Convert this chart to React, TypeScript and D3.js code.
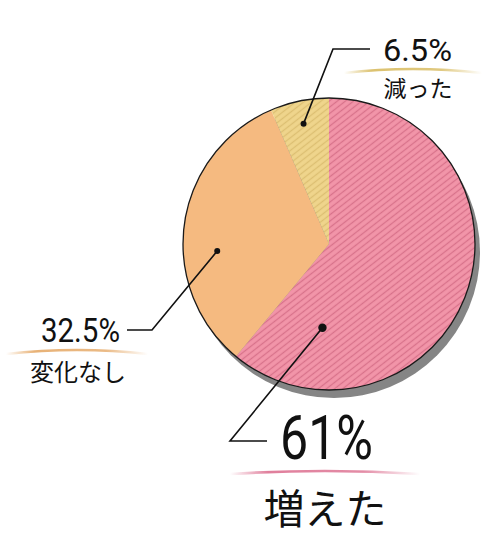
import * as d3 from "d3";
import { useEffect, useRef } from "react";

// data
const categories = ["増えた", "変化なし", "減った"];
const percents = [61, 32.5, 6.5];
const valueLabels = ["61%", "32.5%", "6.5%"];
const baseColors = ["#f295a9", "#f5ba80", "#efd58c"];
const stripeColors = ["#d8728b", "#f5ba80", "#dcbf72"];
const swooshColors = ["#e07f9c", "#e8b277", "#dcc270"];

export default function App() {
  const ref = useRef<SVGSVGElement>(null);

  useEffect(() => {
    const svg = d3.select(ref.current);
    svg.selectAll("*").remove();

    const cx = 329,
      cy = 244,
      r = 146;

    const defs = svg.append("defs");
    categories.forEach((c, i) => {
      const p = defs
        .append("pattern")
        .attr("id", "stripe" + i)
        .attr("patternUnits", "userSpaceOnUse")
        .attr("width", 10)
        .attr("height", 5)
        .attr("patternTransform", "rotate(-38)");
      p.append("rect").attr("width", 10).attr("height", 5).attr("fill", baseColors[i]);
      if (i !== 1) {
        p.append("line")
          .attr("x1", 0)
          .attr("x2", 10)
          .attr("y1", 2.5)
          .attr("y2", 2.5)
          .attr("stroke", stripeColors[i])
          .attr("stroke-width", 1.3);
      }
      const g = defs
        .append("linearGradient")
        .attr("id", "swoosh" + i)
        .attr("x1", "0%")
        .attr("x2", "100%");
      g.append("stop").attr("offset", "0%").attr("stop-color", swooshColors[i]).attr("stop-opacity", 0);
      g.append("stop").attr("offset", "20%").attr("stop-color", swooshColors[i]).attr("stop-opacity", 1);
      g.append("stop").attr("offset", "70%").attr("stop-color", swooshColors[i]).attr("stop-opacity", 0.9);
      g.append("stop").attr("offset", "100%").attr("stop-color", swooshColors[i]).attr("stop-opacity", 0);
    });

    const pie = d3
      .pie<number>()
      .sort(null)
      .value((d) => d);
    const arcs = pie(percents);
    const arc = d3.arc<any>().innerRadius(0).outerRadius(r);

    // shadow
    svg
      .append("circle")
      .attr("cx", cx + 5)
      .attr("cy", cy + 8)
      .attr("r", r)
      .attr("fill", "#858585");

    const g = svg.append("g").attr("transform", `translate(${cx},${cy})`);
    g.selectAll("path")
      .data(arcs)
      .join("path")
      .attr("d", arc)
      .attr("fill", (d, i) => `url(#stripe${i})`);
    g.append("circle").attr("r", r).attr("fill", "none").attr("stroke", "#1a1a1a").attr("stroke-width", 1.3);

    // annotation layout: where the dot sits in its slice, and label placement
    const anno = [
      {
        f: 0.84, rr: 84, dotR: 4.2,
        elbow: [230, 441], end: [267, 441],
        num: { x: 280, y: 459, size: 62, len: 93 },
        swoosh: [230, 420, 474, -3],
        cat: { x: 325, y: 524, size: 41 },
      },
      {
        f: 0.4, rr: 112, dotR: 3,
        elbow: [152, 330], end: [127, 330],
        num: { x: 41, y: 342, size: 34, len: 79 },
        swoosh: [6, 148, 354, -4],
        cat: { x: 78, y: 381, size: 24 },
      },
      {
        f: 0.49, rr: 123, dotR: 3,
        elbow: [333, 49], end: [370, 49],
        num: { x: 383, y: 61, size: 31, len: 69 },
        swoosh: [344, 482, 73, -4],
        cat: { x: 418, y: 97, size: 23 },
      },
    ];

    arcs.forEach((a, i) => {
      const an = anno[i];
      const ang = a.startAngle + an.f * (a.endAngle - a.startAngle);
      const px = cx + an.rr * Math.sin(ang);
      const py = cy - an.rr * Math.cos(ang);
      svg
        .append("polyline")
        .attr("points", `${px},${py} ${an.elbow[0]},${an.elbow[1]} ${an.end[0]},${an.end[1]}`)
        .attr("fill", "none")
        .attr("stroke", "#111")
        .attr("stroke-width", 1.6);
      svg.append("circle").attr("cx", px).attr("cy", py).attr("r", an.dotR).attr("fill", "#111");

      svg
        .append("text")
        .attr("x", an.num.x)
        .attr("y", an.num.y)
        .attr("font-family", "Roboto, 'DejaVu Sans Condensed', sans-serif")
        .attr("font-weight", 400)
        .attr("font-size", an.num.size)
        .attr("fill", "#111")
        .attr("textLength", an.num.len)
        .attr("lengthAdjust", "spacingAndGlyphs")
        .text(valueLabels[i]);

      const [x0, x1, sy, bend] = an.swoosh;
      svg
        .append("path")
        .attr("d", `M${x0},${sy} Q${(x0 + x1) / 2},${sy + bend * 2} ${x1},${sy}`)
        .attr("fill", "none")
        .attr("stroke", `url(#swoosh${i})`)
        .attr("stroke-width", 2.6)
        .attr("stroke-linecap", "round");

      svg
        .append("text")
        .attr("x", an.cat.x)
        .attr("y", an.cat.y)
        .attr("text-anchor", "middle")
        .attr("font-family", "'Noto Sans CJK JP', sans-serif")
        .attr("font-weight", 400)
        .attr("font-size", an.cat.size)
        .attr("fill", "#111")
        .text(categories[i]);
    });
  }, []);

  return (
    <svg
      ref={ref}
      width={500}
      height={535}
      style={{ position: "absolute", left: 0, top: 0, background: "#fff" }}
    />
  );
}
